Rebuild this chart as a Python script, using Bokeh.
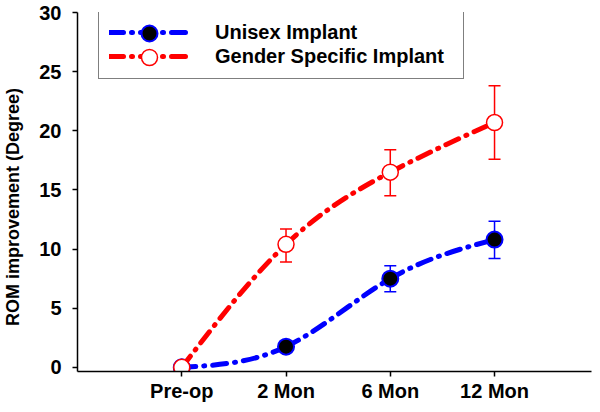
import numpy as np
from bokeh.plotting import figure
from bokeh.models import ColumnDataSource, Legend, LegendItem, FixedTicker, Range1d
from bokeh.embed import file_html
from bokeh.resources import INLINE

# ---- data ----
categories = ["Pre-op", "2 Mon", "6 Mon", "12 Mon"]
x_pos = [1, 2, 3, 4]
unisex_mean = [0.0, 1.75, 7.5, 10.8]
unisex_upper = [0.0, 2.1, 8.6, 12.35]
unisex_lower = [0.0, 1.4, 6.4, 9.2]
gender_mean = [0.0, 10.4, 16.5, 20.7]
gender_upper = [0.0, 11.7, 18.4, 23.8]
gender_lower = [0.0, 8.9, 14.5, 17.6]
y_ticks = [0, 5, 10, 15, 20, 25, 30]
y_title = "ROM improvement (Degree)"

FONT = "Liberation Sans"
DASH = "14 8 1 8"


def spline_bezier(xs, ys):
    """Natural cubic spline through the points, expressed as Bezier segments."""
    x = np.array(xs, float)
    y = np.array(ys, float)
    n = len(x) - 1
    h = np.diff(x)
    A = np.zeros((n + 1, n + 1))
    b = np.zeros(n + 1)
    A[0, 0] = 1
    A[n, n] = 1
    for i in range(1, n):
        A[i, i - 1] = h[i - 1]
        A[i, i] = 2 * (h[i - 1] + h[i])
        A[i, i + 1] = h[i]
        b[i] = 6 * ((y[i + 1] - y[i]) / h[i] - (y[i] - y[i - 1]) / h[i - 1])
    M = np.linalg.solve(A, b)
    s = np.empty(n + 1)
    for i in range(n):
        s[i] = (y[i + 1] - y[i]) / h[i] - h[i] * (2 * M[i] + M[i + 1]) / 6
    s[n] = (y[n] - y[n - 1]) / h[n - 1] + h[n - 1] * (M[n - 1] + 2 * M[n]) / 6
    return dict(
        x0=x[:-1], y0=y[:-1], x1=x[1:], y1=y[1:],
        cx0=x[:-1] + h / 3, cy0=y[:-1] + s[:-1] * h / 3,
        cx1=x[1:] - h / 3, cy1=y[1:] - s[1:] * h / 3,
    )


p = figure(
    width=592, height=404, output_backend="svg", toolbar_location=None,
    x_range=Range1d(0, 4.93), y_range=Range1d(-0.35, 30),
    min_border_left=77, min_border_right=1, min_border_top=12, min_border_bottom=31,
)
p.outline_line_color = None
p.xgrid.grid_line_color = None
p.ygrid.grid_line_color = None
p.background_fill_color = "white"
p.border_fill_color = "white"

# axes
p.xaxis.ticker = FixedTicker(ticks=x_pos)
p.xaxis.major_label_overrides = {x: c for x, c in zip(x_pos, categories)}
p.yaxis.ticker = FixedTicker(ticks=y_ticks)
for ax in (p.xaxis, p.yaxis):
    ax.axis_line_color = "black"
    ax.axis_line_width = 1.5
    ax.major_tick_line_color = "black"
    ax.major_tick_line_width = 1.5
    ax.major_tick_in = 0
    ax.major_tick_out = 5
    ax.minor_tick_line_color = None
    ax.major_label_text_font = FONT
    ax.major_label_text_font_style = "bold"
    ax.major_label_text_font_size = "20px"
    ax.major_label_text_color = "black"
p.xaxis.major_label_standoff = 3
p.yaxis.major_label_standoff = 11

# trailing no-break spaces push the visible title a little below the frame centre
p.yaxis.axis_label = y_title + "\u00a0" * 6
p.yaxis.axis_label_text_font = FONT
p.yaxis.axis_label_text_font_style = "bold"
p.yaxis.axis_label_text_font_size = "18px"
p.yaxis.axis_label_text_color = "black"
p.yaxis.axis_label_standoff = 13

series = [
    ("Unisex Implant", unisex_mean, unisex_upper, unisex_lower, "#0000ff", "black", 2),
    ("Gender Specific Implant", gender_mean, gender_upper, gender_lower, "#ff0000", "white", 1.5),
]

line_items = []
mark_renderers = []
for label, mean, upper, lower, color, fill, ow in series:
    curve = p.bezier(
        source=ColumnDataSource(spline_bezier(x_pos, mean)),
        x0="x0", y0="y0", x1="x1", y1="y1",
        cx0="cx0", cy0="cy0", cx1="cx1", cy1="cy1",
        line_color=color, line_width=5, line_dash=DASH, line_cap="round",
    )
    src = ColumnDataSource(dict(x=x_pos, y=mean, upper=upper, lower=lower))
    p.segment(x0="x", y0="lower", x1="x", y1="upper", source=src,
              line_color=color, line_width=1.5)
    p.scatter(x="x", y="upper", source=src, marker="dash", size=12,
              line_color=color, line_width=1.5)
    p.scatter(x="x", y="lower", source=src, marker="dash", size=12,
              line_color=color, line_width=1.5)
    marks = p.scatter(x="x", y="y", source=src, marker="circle", size=16,
                      fill_color=fill, line_color=color, line_width=ow)
    line_items.append(LegendItem(label=label, renderers=[curve]))
    mark_renderers.append(marks)

common = dict(margin=0, label_text_font=FONT, label_text_font_style="bold",
              label_text_color="black", glyph_width=82)

# main legend box: dash-dot samples and labels
legend = Legend(
    items=line_items, location=(21, 292), padding=10,
    glyph_height=24, label_height=24, spacing=0, label_standoff=24,
    label_text_font_size="20px", label_width=238,
    border_line_color="black", border_line_width=1, background_fill_alpha=1,
    **common,
)
p.add_layout(legend)

# large marker samples laid over the legend rows
for mk, y_off in zip(mark_renderers, (318, 294)):
    mleg = Legend(
        items=[LegendItem(label="", renderers=[mk])], location=(31, y_off),
        padding=0, glyph_height=40, label_height=0, label_width=0, spacing=0,
        label_standoff=0, label_text_font_size="1px",
        border_line_color=None, background_fill_alpha=0,
        **common,
    )
    p.add_layout(mleg)

open("out.html", "w").write(file_html(p, INLINE))
